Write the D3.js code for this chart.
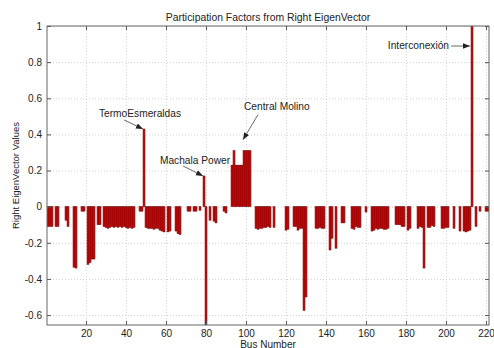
<!DOCTYPE html>
<html>
<head>
<meta charset="utf-8">
<script src="https://cdn.jsdelivr.net/npm/d3@7"></script>
<style>
  body { margin: 0; background: #fff; }
  svg { display: block; font-family: "Liberation Sans", Arial, sans-serif; }
</style>
</head>
<body>
<div id="chart"></div>
<script>
// participation factor of each bus, bus 1 .. 221
const values = [
  -0.11, -0.11, -0.11, 0, -0.11, -0.11, 0, 0, 0, -0.075,
  -0.11, 0, 0, -0.335, -0.34, 0, 0, -0.025, -0.025, 0,
  -0.32, -0.31, -0.29, -0.29, 0, -0.1, -0.1, 0, -0.11, -0.115,
  -0.12, -0.115, -0.11, -0.115, -0.11, -0.115, -0.11, -0.115, -0.11, -0.115,
  -0.12, -0.115, -0.12, -0.115, 0, 0, -0.025, -0.025, 0.43, -0.115,
  -0.12, -0.12, -0.12, -0.125, -0.12, -0.12, -0.13, -0.135, -0.14, 0,
  -0.14, -0.135, 0, 0, -0.135, -0.15, -0.155, 0, 0, 0,
  -0.025, -0.025, 0, -0.025, -0.025, 0, -0.02, 0, 0.17, -0.655,
  0, -0.075, 0, -0.08, -0.09, 0, 0, 0, -0.025, -0.035,
  0, 0, 0.23, 0.31, 0.23, 0.23, 0.23, 0.23, 0.31, 0.31,
  0.31, 0.31, 0, 0, -0.12, -0.125, -0.12, -0.12, -0.115, -0.115,
  -0.11, -0.115, 0, -0.115, 0, 0, 0, 0, 0, -0.13,
  -0.125, 0, 0, -0.11, -0.11, -0.13, -0.12, -0.12, -0.575, -0.5,
  0, 0, 0, 0, -0.12, -0.12, -0.115, -0.12, -0.12, 0,
  0, -0.24, -0.175, 0, -0.23, 0, 0, -0.09, -0.09, 0,
  0, 0, -0.12, -0.125, -0.11, -0.115, -0.115, 0, 0, -0.03,
  0, 0, -0.135, -0.13, -0.12, -0.125, -0.12, -0.12, -0.125, -0.125,
  -0.12, 0, 0, 0, -0.1, -0.1, -0.1, -0.11, -0.11, 0,
  -0.13, -0.12, 0, 0, 0, -0.12, -0.11, -0.115, -0.34, 0,
  -0.115, -0.115, -0.105, -0.11, 0, 0, 0, -0.12, -0.12, -0.115,
  -0.115, 0, 0, -0.12, 0, 0, -0.135, 0, -0.135, -0.14,
  -0.135, -0.13, 1.0, 0, -0.11, 0, -0.025, 0, 0, -0.025,
  -0.025
];

const xTicks = [20, 40, 60, 80, 100, 120, 140, 160, 180, 200, 220];
const yTicks = [-0.6, -0.4, -0.2, 0, 0.2, 0.4, 0.6, 0.8, 1];

const annLabels = ['TermoEsmeraldas', 'Machala Power', 'Central Molino', 'Interconexión'];
const annBuses = [49, 79, 99, 213];

const width = 494, height = 348;
const plot = {left: 47, right: 489, top: 26, bottom: 325};
const ink = '#222';

const svg = d3.select('#chart')
  .append('svg')
  .attr('width', width)
  .attr('height', height);

const x = d3.scaleLinear()
  .domain([0.5, values.length + 0.5])
  .range([plot.left, plot.right]);

const y = d3.scaleLinear()
  .domain([-0.655, 1])
  .range([plot.bottom, plot.top]);

const plotW = plot.right - plot.left;
const plotH = plot.bottom - plot.top;

svg.append('defs').append('clipPath').attr('id', 'clip')
  .append('rect')
  .attr('x', plot.left).attr('y', plot.top)
  .attr('width', plotW).attr('height', plotH);

svg.select('defs').append('marker')
  .attr('id', 'head')
  .attr('viewBox', '0 0 10 10')
  .attr('refX', 10).attr('refY', 5)
  .attr('markerWidth', 7).attr('markerHeight', 7)
  .attr('markerUnits', 'userSpaceOnUse')
  .attr('orient', 'auto')
  .append('path')
  .attr('d', 'M0,1L10,5L0,9Z')
  .attr('fill', ink);

// dotted grid
svg.append('g')
  .attr('transform', `translate(0,${plot.bottom})`)
  .call(d3.axisBottom(x).tickValues(xTicks).tickSize(-plotH).tickFormat(''))
  .call(g => g.select('.domain').remove())
  .call(g => g.selectAll('line').attr('stroke', '#d2d2d2').attr('stroke-dasharray', '1,2'));

svg.append('g')
  .attr('transform', `translate(${plot.left},0)`)
  .call(d3.axisLeft(y).tickValues(yTicks).tickSize(-plotW).tickFormat(''))
  .call(g => g.select('.domain').remove())
  .call(g => g.selectAll('line').attr('stroke', '#d2d2d2').attr('stroke-dasharray', '1,2'));

// bars
const data = values
  .map((v, i) => ({bus: i + 1, value: v}))
  .filter(d => d.value !== 0);

svg.append('g')
  .attr('clip-path', 'url(#clip)')
  .selectAll('rect')
  .data(data)
  .join('rect')
  .attr('x', d => x(d.bus - 0.5))
  .attr('width', x(1.5) - x(0.5))
  .attr('y', d => y(Math.max(0, d.value)))
  .attr('height', d => Math.abs(y(d.value) - y(0)))
  .attr('fill', '#dc0a0a')
  .attr('stroke', '#5a0000')
  .attr('stroke-width', 0.45);

// axes, ticks pointing inward
const fmt = d => String(d);

const styleAxis = g => {
  g.select('.domain').remove();
  g.selectAll('line').attr('stroke', '#555');
  g.selectAll('text').attr('fill', ink).attr('font-size', 10)
    .attr('font-family', '"Liberation Sans", Arial, sans-serif');
};

svg.append('g')
  .attr('transform', `translate(0,${plot.bottom})`)
  .call(d3.axisBottom(x).tickValues(xTicks).tickSize(-4).tickPadding(5).tickFormat(fmt))
  .call(styleAxis);

svg.append('g')
  .attr('transform', `translate(0,${plot.top})`)
  .call(d3.axisTop(x).tickValues(xTicks).tickSize(-4).tickFormat(''))
  .call(styleAxis);

svg.append('g')
  .attr('transform', `translate(${plot.left},0)`)
  .call(d3.axisLeft(y).tickValues(yTicks).tickSize(-4).tickPadding(5).tickFormat(fmt))
  .call(styleAxis);

svg.append('g')
  .attr('transform', `translate(${plot.right},0)`)
  .call(d3.axisRight(y).tickValues(yTicks).tickSize(-4).tickFormat(''))
  .call(styleAxis);

svg.append('rect')
  .attr('x', plot.left).attr('y', plot.top)
  .attr('width', plotW).attr('height', plotH)
  .attr('fill', 'none')
  .attr('stroke', '#666');

// titles
svg.append('text')
  .attr('x', (plot.left + plot.right) / 2)
  .attr('y', 20.5)
  .attr('text-anchor', 'middle')
  .attr('font-size', 10.4)
  .attr('fill', ink)
  .text('Participation Factors from Right EigenVector');

svg.append('text')
  .attr('x', (plot.left + plot.right) / 2)
  .attr('y', 347.5)
  .attr('text-anchor', 'middle')
  .attr('font-size', 10)
  .attr('fill', ink)
  .text('Bus Number');

svg.append('text')
  .attr('transform', `translate(19,${(plot.top + plot.bottom) / 2}) rotate(-90)`)
  .attr('text-anchor', 'middle')
  .attr('font-size', 9.5)
  .attr('fill', ink)
  .text('Right EigenVector Values');

// annotations: arrow tip near the bar top, tail and label offset from the tip
const annLayout = [
  {tip: [-1, 0], tail: [-19, -9], text: [-3, -12], anchor: 'middle'},
  {tip: [-1, 0], tail: [-20, -10], text: [-8, -12], anchor: 'middle'},
  {tip: [-1, -11], tail: [15, -25], text: [1, -30], anchor: 'start'},
  {tip: [-2, 20], tail: [-19, 0], text: [-21, 3], anchor: 'end'}
];

const ann = svg.append('g');
annBuses.forEach((bus, i) => {
  const lay = annLayout[i];
  const tx = x(bus) + lay.tip[0];
  const ty = y(values[bus - 1]) + lay.tip[1];
  ann.append('line')
    .attr('x1', tx + lay.tail[0]).attr('y1', ty + lay.tail[1])
    .attr('x2', tx).attr('y2', ty)
    .attr('stroke', '#444')
    .attr('stroke-width', 0.8)
    .attr('marker-end', 'url(#head)');
  ann.append('text')
    .attr('x', tx + lay.text[0])
    .attr('y', ty + lay.text[1])
    .attr('text-anchor', lay.anchor)
    .attr('font-size', 10.2)
    .attr('fill', ink)
    .text(annLabels[i]);
});
</script>
</body>
</html>
